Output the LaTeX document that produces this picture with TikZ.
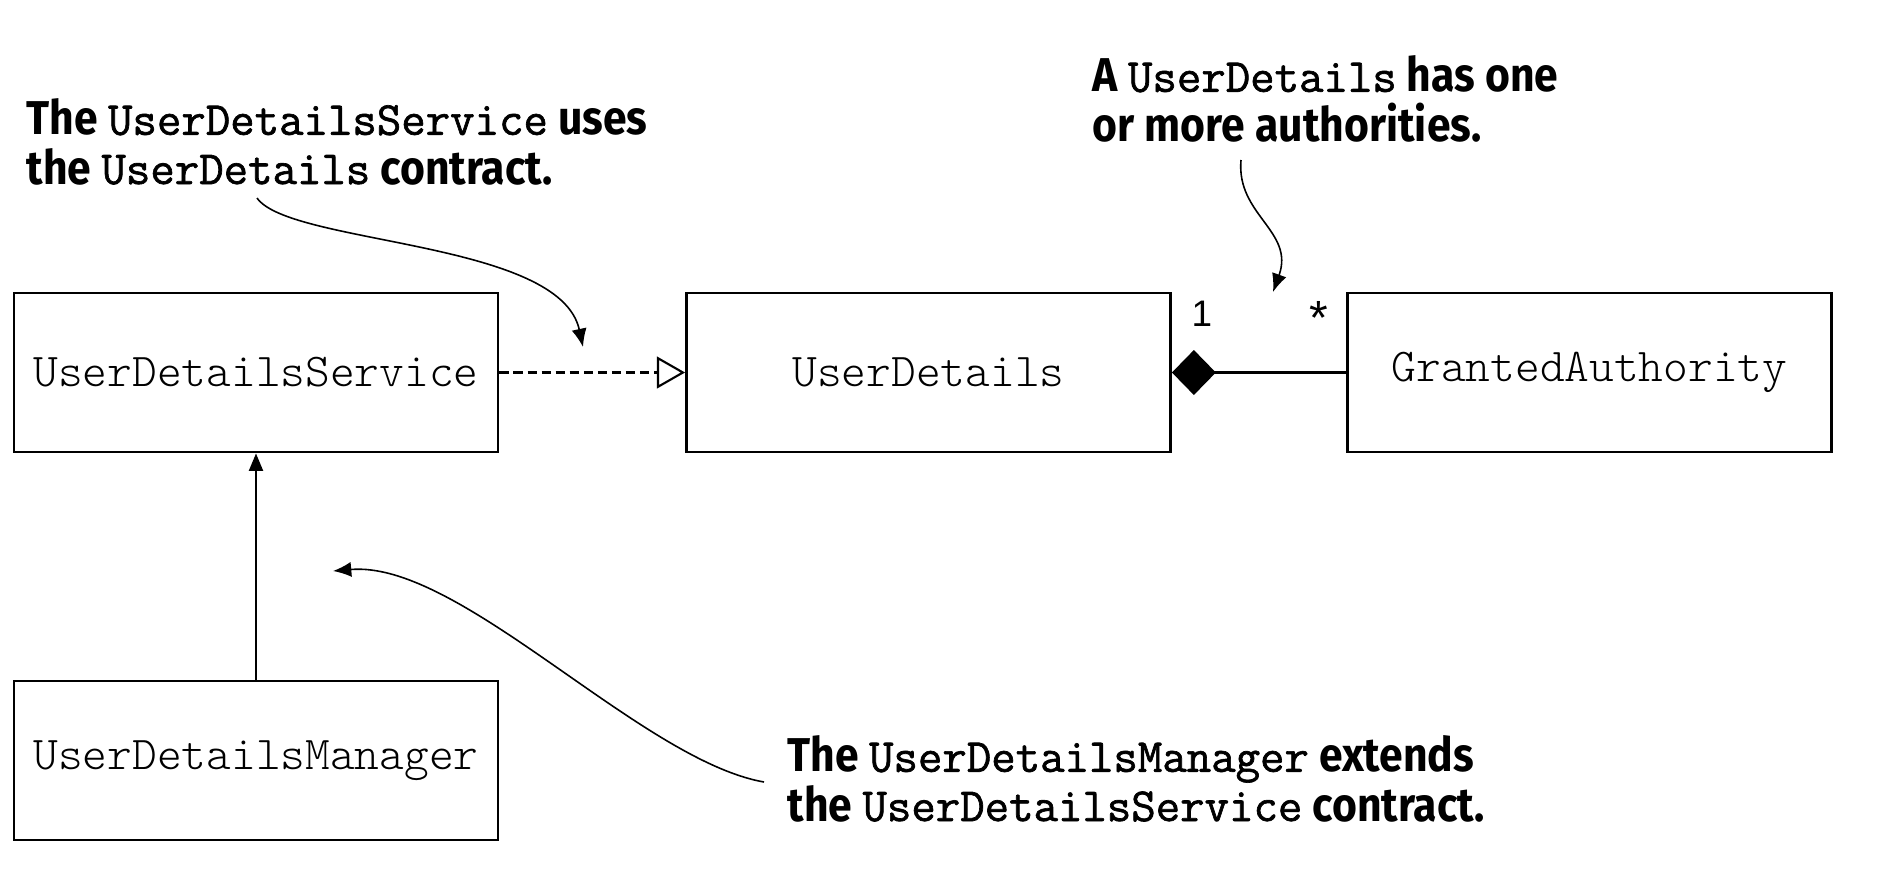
\documentclass[tikz,border=0pt]{standalone}
\usepackage{fontspec}
\newfontfamily\notefont{Fira Sans}[FakeStretch=0.9]
\newfontfamily\codefont{Latin Modern Mono}[FakeBold=1.4]
\newfontfamily\boxfont{Latin Modern Mono Light}
\newfontfamily\multfont{Liberation Sans}
\usepackage{tikz}
\usetikzlibrary{arrows.meta,positioning}

\newcommand{\code}[1]{{\codefont\mdseries\fontsize{13.5}{14}\selectfont #1}}

\begin{document}
\begin{tikzpicture}[node distance=2cm,on grid,
    umlbox/.style={draw,line width=0.8pt,minimum width=4.84cm,minimum height=1.59cm,
      inner sep=0pt,font=\boxfont\fontsize{13.4}{14}\selectfont},
    note/.style={align=left,anchor=base west,inner sep=0pt,
      font=\notefont\bfseries\fontsize{13.5}{14}\selectfont},
    mult/.style={inner sep=0pt,font=\multfont\fontsize{10.5}{12}\selectfont},
    pointer/.style={-{Latex[length=5.2pt,width=4.3pt]},line width=0.45pt}]
    \useasboundingbox (0,0) rectangle (18.77,-8.77);
    \node[umlbox] (uds) at (2.56,-3.725)            {UserDetailsService};
    \node[umlbox] (ud)  [right=6.725cm of uds]      {UserDetails};
    \node[umlbox] (ga)  [right=6.61cm of ud]        {GrantedAuthority};
    \node[umlbox] (udm) [below=3.88cm of uds]       {UserDetailsManager};
    \node[mult] (one)  [above right=0.45cm and 0.19cm of ud.east] {1};
    \node[mult,scale=1.3] (many) [above left=0.37cm and 0.17cm of ga.west]  {*};
    % notes
    \node[note] (note1) at (0.26,-1.84)
      {The \code{UserDetailsService} uses\\the \code{UserDetails} contract.};
    \node[note] (note2) at (10.92,-1.41)
      {A \code{UserDetails} has one\\or more authorities.};
    \node[note] (note3) at (7.87,-8.21)
      {The \code{UserDetailsManager} extends\\the \code{UserDetailsService} contract.};
    \coordinate (n1from) at (2.57,-1.98);
    \coordinate (n1to)   at (5.83,-3.47);
    \coordinate (n2from) at (12.41,-1.60);
    \coordinate (n2to)   at (12.73,-2.92);
    \coordinate (n3from) at (7.64,-7.82);
    \coordinate (n3to)   at (3.33,-5.71);
    % uml edges
    \draw[line width=0.6pt,dash pattern=on 2.6pt off 1.4pt,
      -{Triangle[open,length=8pt,width=9pt]}] (uds) -- (ud);
    \draw[line width=0.6pt,{Diamond[length=12.5pt,width=12.8pt]}-] (ud) -- (ga);
    \draw[line width=0.6pt,-{Triangle[length=5pt,width=4pt]}] (udm) -- (uds);
    % note pointers
    \draw[pointer] (n1from) .. controls (2.90,-2.45) and (5.60,-2.40) .. (n1to);
    \draw[pointer] (n2from) .. controls (12.36,-2.15) and (12.95,-2.31) .. (n2to);
    \draw[pointer] (n3from) .. controls (6.40,-7.60) and (4.60,-5.60) .. (n3to);
  \end{tikzpicture}
\end{document}
